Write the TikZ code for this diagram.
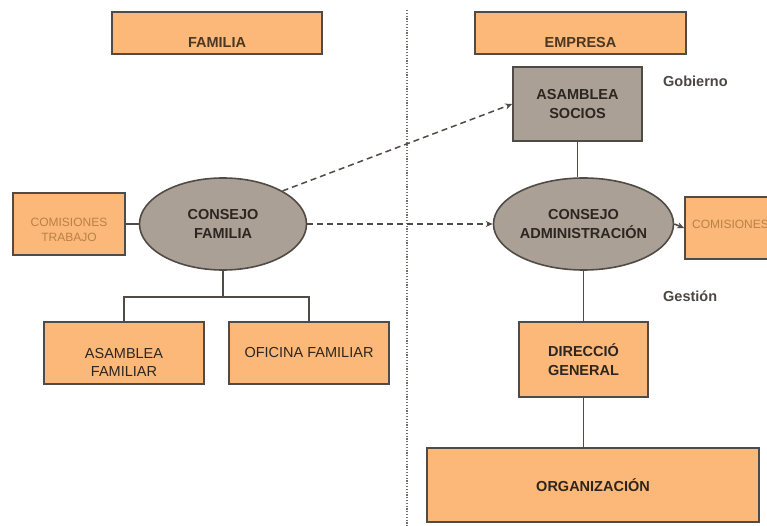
\documentclass[tikz,border=0pt]{standalone}
\usepackage{fontspec}
\setmainfont{Liberation Sans}
\usetikzlibrary{arrows.meta,shapes.geometric}
\definecolor{boxorange}{RGB}{251,184,120}
\definecolor{boxgray}{RGB}{170,160,150}
\definecolor{edgegray}{RGB}{80,75,70}
\definecolor{txtdark}{RGB}{45,38,32}
\definecolor{txttitle}{RGB}{75,55,35}
\definecolor{txtorange}{RGB}{185,130,70}
\tikzset{
  obox/.style={draw=edgegray, line width=1.6pt, fill=boxorange, inner sep=0pt, align=center, text=txtdark},
  gbox/.style={draw=edgegray, line width=1.6pt, fill=boxgray, inner sep=0pt, align=center, text=txtdark},
  gell/.style={draw=edgegray, line width=1.6pt, fill=boxgray, ellipse, inner sep=0pt, align=center, text=txtdark},
  conn/.style={draw=edgegray, line width=1.6pt},
  dconn/.style={draw=edgegray, line width=1.5pt, dash pattern=on 6pt off 4pt, -{Stealth[length=7pt,width=6pt]}},
  bigtxt/.style={font=\fontsize{14.5}{18.5}\selectfont},
  bigbold/.style={font=\fontsize{14.5}{18.5}\selectfont\bfseries},
  smalltxt/.style={font=\fontsize{12}{15}\selectfont, text=txtorange},
}
\begin{document}
\begin{tikzpicture}[x=1pt,y=-1pt]
\useasboundingbox (0,0) rectangle (767,526);
\clip (0,0) rectangle (767,526);
\fill[white] (0,0) rectangle (767,526);

% dotted separator
\coordinate (sepT) at (407,10);
\coordinate (sepB) at (407,526);
\draw[edgegray!80, line width=1.3pt, dash pattern=on 1.2pt off 1.6pt] (sepT) -- (sepB);

% titles
\node[obox, minimum width=210pt, minimum height=42pt] (fam) at (217,33) {};
\node[bigbold, text=txttitle, anchor=base] (famt) at (217,48) {FAMILIA};
\node[obox, minimum width=211pt, minimum height=42pt] (emp) at (580.5,33) {};
\node[bigbold, text=txttitle, anchor=base] (empt) at (580.5,48) {EMPRESA};

% left side
\node[gell, bigbold, minimum width=167pt, minimum height=92pt] (cf) at (223,224) {CONSEJO\\FAMILIA};
\node[obox, minimum width=112pt, minimum height=62pt] (ct) at (69,224) {};
\node[smalltxt, align=center] (ctt) at (69,230) {COMISIONES\\TRABAJO};
\node[obox, minimum width=160pt, minimum height=62pt] (af) at (124,353) {};
\node[bigtxt, text=txtdark, align=center] (aft) at (124,362.5) {ASAMBLEA\\FAMILIAR};
\node[obox, bigtxt, minimum width=160pt, minimum height=62pt] (of) at (309,353) {OFICINA FAMILIAR};

% right side
\node[gbox, bigbold, minimum width=129pt, minimum height=74pt] (as) at (577.5,104) {ASAMBLEA\\SOCIOS};
\node[gell, bigbold, minimum width=167pt, minimum height=92pt] (ca) at (583.5,224) {CONSEJO\\ADMINISTRACIÓN};
\node[obox, minimum width=120pt, minimum height=62pt] (cm) at (745,228) {};
\node[smalltxt, anchor=base west, inner sep=0pt] (cmt) at (692,229) {COMISIONES};
\node[obox, bigbold, minimum width=129pt, minimum height=75pt] (dg) at (583.5,359.5) {DIRECCIÓ\\GENERAL};
\node[obox, bigbold, minimum width=332pt, minimum height=74pt] (org) at (593,485) {ORGANIZACIÓN};

\node[bigbold, text=txtdark!85, anchor=west, inner sep=0pt] (gob) at (663,81) {Gobierno};
\node[bigbold, text=txtdark!85, anchor=west, inner sep=0pt] (ges) at (663,296) {Gestión};

% connectors
\draw[conn] (ct.east) -- (cf.west);
\draw[conn] (cf.south) -- ++(0,26) coordinate (fork);
\draw[conn] (af.north) |- (fork) -| (of.north);
\draw[dconn] (cf.north east) -- (as.west);
\draw[dconn] (cf.east) -- (ca.west);
\draw[conn] (as.south) -- (as.south |- ca.north);
\draw[conn, -{Stealth[length=7pt,width=6pt]}] (ca.east) -- (cm.west);
\draw[conn] (ca.south) -- (dg.north);
\draw[conn] (dg.south) -- (dg.south |- org.north);
\end{tikzpicture}
\end{document}
